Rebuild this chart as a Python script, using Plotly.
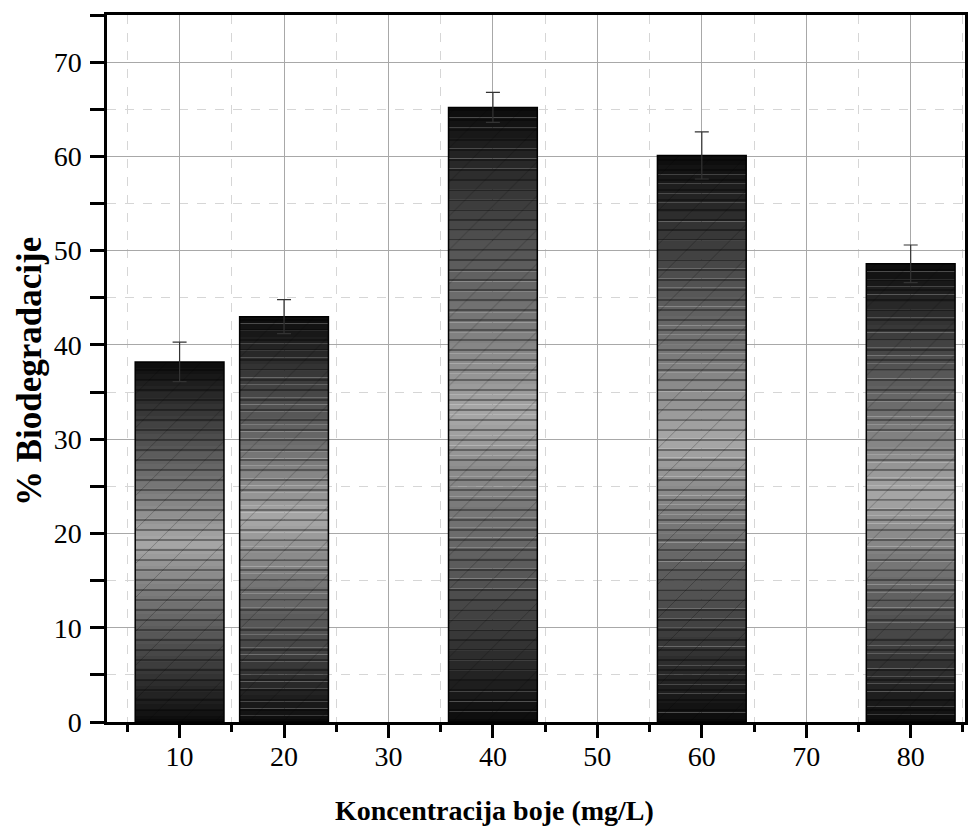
import plotly.graph_objects as go

categories = [10, 20, 40, 60, 80]
values = [38.2, 43.0, 65.2, 60.1, 48.6]
errors = [2.1, 1.8, 1.6, 2.5, 2.0]

x_title = "Koncentracija boje (mg/L)"
y_title = "% Biodegradacije"

N = 60
BAR_W = 8.5
fig = go.Figure()

def gray(frac):
    # dark at both ends, lighter in the middle
    t = 1 - abs(frac - 0.5) * 2
    lo, hi = 12, 168
    v = int(lo + (hi - lo) * t)
    return f"rgb({v},{v},{v})"

for i in range(N):
    frac = (i + 0.5) / N
    fig.add_trace(go.Bar(
        x=categories,
        y=[v / N for v in values],
        base=[v * i / N for v in values],
        width=BAR_W,
        marker=dict(color=gray(frac), line=dict(width=0)),
        showlegend=False, hoverinfo="skip",
    ))

# pattern overlays
fig.add_trace(go.Bar(
    x=categories, y=values, width=BAR_W,
    marker=dict(color="rgba(0,0,0,0)", line=dict(width=0),
                pattern=dict(shape="/", fgcolor="black", fgopacity=0.25,
                             size=24, solidity=0.04, fillmode="replace")),
    showlegend=False, hoverinfo="skip",
))
fig.add_trace(go.Bar(
    x=categories, y=values, width=BAR_W,
    marker=dict(color="rgba(0,0,0,0)", line=dict(color="black", width=1.5),
                pattern=dict(shape="-", fgcolor="black", fgopacity=0.5,
                             size=10, solidity=0.14, fillmode="replace")),
    error_y=dict(type="data", array=errors, symmetric=True,
                 color="#333333", thickness=1.2, width=7),
    showlegend=False,
))

font_family = "Liberation Serif"
fig.update_layout(
    width=971, height=834,
    barmode="overlay",
    plot_bgcolor="white", paper_bgcolor="white",
    margin=dict(l=107, r=6, t=15, b=112),
    font=dict(family=font_family, color="black", size=28),
    xaxis=dict(
        range=[3.05, 85.2], tick0=0, dtick=10,
        showline=True, linecolor="black", linewidth=2.5, mirror=True,
        ticks="outside", ticklen=13, tickwidth=2.5, tickcolor="black",
        showgrid=True, gridcolor="#a8a8a8", gridwidth=1,
        minor=dict(tick0=0, dtick=5, ticks="outside", ticklen=7, tickwidth=2.5,
                   tickcolor="black", showgrid=True, gridcolor="#d6d6d6",
                   griddash="dash", gridwidth=1),
        ticklabelstandoff=-5,
        zeroline=False, automargin=False,
    ),
    yaxis=dict(
        range=[0, 75], tick0=0, dtick=10,
        showline=True, linecolor="black", linewidth=2.5, mirror=True,
        ticks="outside", ticklen=14, tickwidth=2.5, tickcolor="black",
        showgrid=True, gridcolor="#a8a8a8", gridwidth=1,
        minor=dict(tick0=0, dtick=5, ticks="outside", ticklen=14, tickwidth=2.5,
                   tickcolor="black", showgrid=True, gridcolor="#d6d6d6",
                   griddash="dash", gridwidth=1),
        ticklabelstandoff=3,
        zeroline=False, automargin=False,
    ),
    annotations=[
        dict(text=f"<b>{x_title}</b>", xref="paper", yref="paper",
             x=(494 - 107) / 858, y=(722 - 810) / 707,
             xanchor="center", yanchor="middle", showarrow=False,
             font=dict(size=28)),
        dict(text=f"<b>{y_title}</b>", xref="paper", yref="paper",
             x=(29 - 107) / 858, y=(722 - 372) / 707, textangle=-90,
             xanchor="center", yanchor="middle", showarrow=False,
             font=dict(size=35)),
    ],
)

fig.write_html("out.html", config={"displayModeBar": False},
               post_script="document.body.style.margin='0';")
